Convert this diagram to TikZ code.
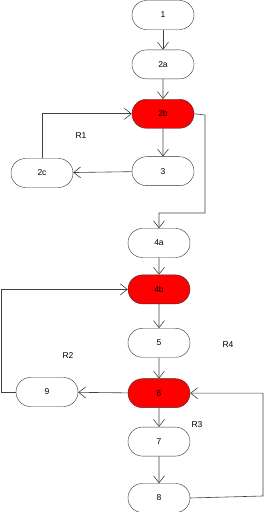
\documentclass[tikz,border=0pt]{standalone}
\usepackage{fontspec}
\setmainfont{Liberation Sans}
\usepackage{tikz}
\usetikzlibrary{shapes.misc, arrows.meta, positioning}

\begin{document}
\begin{tikzpicture}[
    x=1pt, y=1pt,
    every node/.style={font=\fontsize{8.5}{10}\selectfont},
    block/.style={draw=black!80, rounded rectangle, minimum width=62pt, minimum height=29pt, inner sep=0pt},
    hot/.style={block, fill=red},
    arrow/.style={-{Straight Barb[length=7pt, width=11pt]}, draw=black!75, line width=0.6pt}
  ]
    \useasboundingbox (0,0) rectangle (264,512);

    % first block
    \node[block] (n1) at (163,497) {1};
    \node[block, below=20pt of n1] (n2a) {2a};
    \node[hot, below=20pt of n2a] (n2b) {2b};
    \node[block, below=28pt of n2b] (n3) {3};
    \node[block] (n2c) at (42,339) {2c};

    % second block
    \node[block] (n4a) at (159,269) {4a};
    \node[hot, below=17pt of n4a] (n4b) {4b};
    \node[block, below=24pt of n4b] (n5) {5};
    \node[hot, below=21pt of n5] (n6) {6};
    \node[block, below=19pt of n6] (n7) {7};
    \node[block, below=27pt of n7] (n8) {8};
    \node[block] (n9) at (47,120) {9};

    % regions
    \node (r1) at (81,376) {R1};
    \node (r2) at (68,156) {R2};
    \node (r3) at (197,87) {R3};
    \node (r4) at (228,167) {R4};

    \draw[arrow] (n1) -- (n2a);
    \draw[arrow] (n2a) -- (n2b);
    \draw[arrow] (n2b) -- (n3);
    \draw[arrow] (n3) -- (n2c);
    \draw[arrow] (n2c.north) |- (n2b.west);
    \draw[arrow] (n2b.east) -- (205,397) -- (205,299) -| (n4a.north);
    \draw[arrow] (n4a) -- (n4b);
    \draw[arrow] (n4b) -- (n5);
    \draw[arrow] (n5) -- (n6);
    \draw[arrow] (n6) -- (n9);
    \draw[arrow] (n9.west) -- (1,120) |- (n4b.west);
    \draw[arrow] (n6) -- (n7);
    \draw[arrow] (n7) -- (n8);
    \draw[arrow] (n8.east) -- (263,16) |- (n6.east);

  \end{tikzpicture}
\end{document}
